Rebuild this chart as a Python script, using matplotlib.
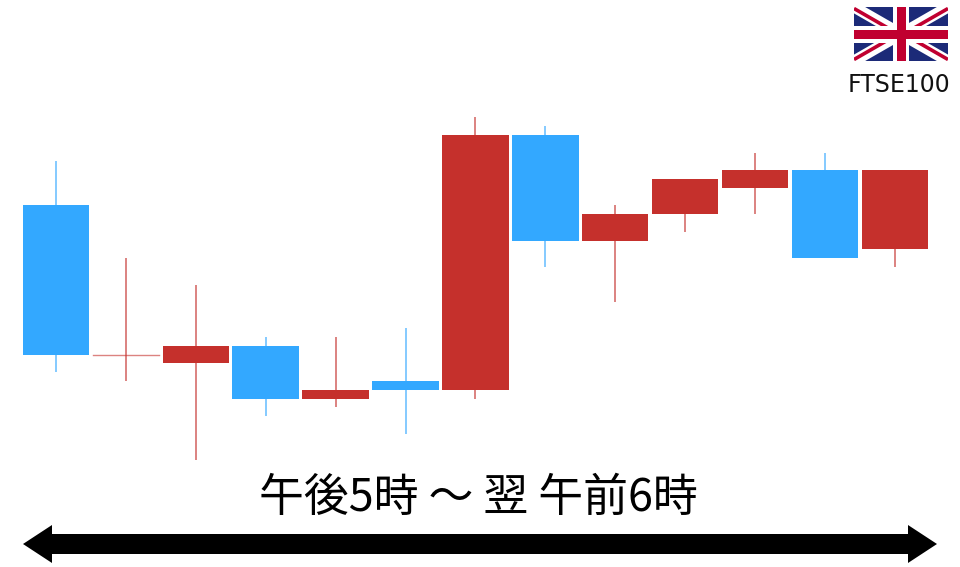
import matplotlib
matplotlib.use('Agg')
import matplotlib.pyplot as plt
from matplotlib.patches import Rectangle, Polygon

plt.rcParams['font.family'] = ['Noto Sans CJK JP', 'DejaVu Sans']

# Candle values (height above the bottom edge)
opens  = [362, 212, 204, 221, 168, 186, 177, 432, 326, 353, 379, 397, 318]
closes = [212, 212, 221, 168, 177, 177, 432, 326, 353, 388, 397, 309, 397]
highs  = [406, 309, 282, 230, 230, 239, 450, 441, 362, 388, 414, 414, 397]
lows   = [195, 186, 107, 151, 160, 133, 168, 300, 265, 335, 353, 309, 300]
title_text = '午後5時 〜 翌 午前6時'
index_label = 'FTSE100'

UP = '#c5302c'
DOWN = '#33a8ff'
NAVY = '#1c2a78'
FLAG_RED = '#c00030'

fig = plt.figure(figsize=(9.6, 5.67), dpi=100)
ax = fig.add_axes([0, 0, 1, 1])
ax.set_xlim(0, 960)
ax.set_ylim(0, 567)
ax.axis('off')

first_center, spacing, body_width = 56, 69.9, 66.5
for i, (o, c, hi, lo) in enumerate(zip(opens, closes, highs, lows)):
    col = UP if c >= o else DOWN
    x = first_center + spacing * i
    ax.plot([x, x], [lo, hi], color=col, lw=1.3, alpha=0.65, zorder=1, solid_capstyle='butt')
    if o == c:
        ax.plot([x - body_width / 2, x + body_width / 2], [o, o], color=col, lw=1, alpha=0.6, zorder=2)
    else:
        ax.add_patch(Rectangle((x - body_width / 2, min(o, c)), body_width, abs(c - o),
                               fc=col, ec='none', zorder=2))

ax.text(478, 69, title_text, fontsize=32.3, ha='center', va='center', color='black')

ax.add_patch(Polygon([(23, 23), (52, 4), (52, 13), (908, 13), (908, 4), (937, 23), (908, 42), (908, 33), (52, 33), (52, 42)],
                     fc='black', ec='none', zorder=3))

ax.text(899, 482, index_label, fontsize=17, family=['DejaVu Sans'], ha='center', va='center', color='#111111')

# Union flag
L, R, B, T = 854, 948, 506, 560
cx, cy = (L + R) / 2, (B + T) / 2
clip = Rectangle((L, B), R - L, T - B, transform=ax.transData)
ax.add_patch(Rectangle((L, B), R - L, T - B, fc=NAVY, ec='none', zorder=4))
for xs, ys in [([L, R], [B, T]), ([L, R], [T, B])]:
    ln, = ax.plot(xs, ys, color='white', lw=8, zorder=5, solid_capstyle='butt')
    ln.set_clip_path(clip)
off = 1.5
for xs, ys in [([L, cx], [T - off, cy - off]), ([cx, R], [cy + off, B + off + 2 * 0]),
               ([L, cx], [B + off, cy + off]), ([cx, R], [cy - off, T - off])]:
    ln, = ax.plot(xs, ys, color=FLAG_RED, lw=2.6, zorder=6, solid_capstyle='butt')
    ln.set_clip_path(clip)
ax.add_patch(Rectangle((L, cy - 8.5), R - L, 17, fc='white', ec='none', zorder=7))
ax.add_patch(Rectangle((cx - 8, B), 16, T - B, fc='white', ec='none', zorder=7))
ax.add_patch(Rectangle((L, cy - 4.5), R - L, 9, fc=FLAG_RED, ec='none', zorder=8))
ax.add_patch(Rectangle((cx - 4.5, B), 9, T - B, fc=FLAG_RED, ec='none', zorder=8))

fig.savefig('out.png', dpi=100)
